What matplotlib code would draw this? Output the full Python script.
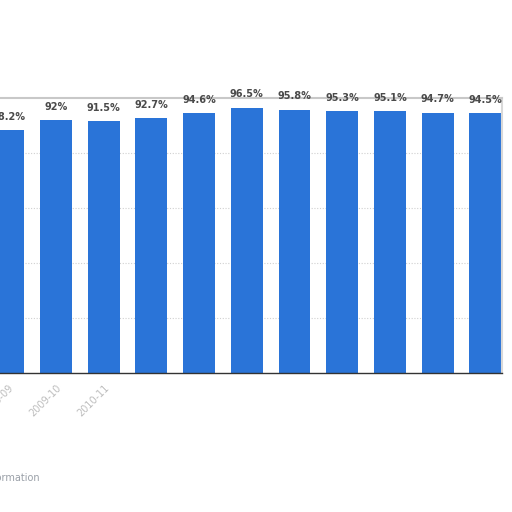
import matplotlib
matplotlib.use("Agg")
import matplotlib.pyplot as plt

# data
seasons = ["2008-09", "2009-10", "2010-11", "2011-12", "2012-13", "2013-14",
           "2014-15", "2015-16", "2016-17", "2017-18", "2018-19"]
rates = [88.2, 92.0, 91.5, 92.7, 94.6, 96.5, 95.8, 95.3, 95.1, 94.7, 94.5]
shown_ticks = 3  # only the first few tick labels survive in the picture

bar_color = "#2a74d8"

fig = plt.figure(figsize=(5.12, 5.12), dpi=100)
ax = fig.add_axes([0.0, 1 - 373 / 512, 502 / 512, (373 - 98) / 512])

x = list(range(len(rates)))
ax.bar(x, rates, width=0.67, color=bar_color, zorder=2)

for xi, v in zip(x, rates):
    txt = f"{v:g}%"
    ax.text(xi, v + 3.0, txt, ha="center", va="bottom", fontsize=7,
            fontweight="semibold", color="#4a4a4a", zorder=3)

ax.set_xlim(-0.174, 10.35)
ax.set_ylim(0, 100)
ax.set_yticks([20, 40, 60, 80])
ax.yaxis.grid(True, color="#d0d0d0", linestyle=(0, (1, 1.5)), linewidth=0.8, zorder=0)
ax.tick_params(left=False, labelleft=False, bottom=False)

ax.set_xticks(x[:shown_ticks])
ax.set_xticklabels(seasons[:shown_ticks], rotation=45, ha="right",
                   rotation_mode="anchor", fontsize=7, color="#bdbdbd")

ax.spines["left"].set_visible(False)
ax.spines["top"].set_color("#c8c8c8")
ax.spines["top"].set_linewidth(1.5)
ax.spines["right"].set_color("#d8d8d8")
ax.spines["right"].set_linewidth(1.5)
ax.spines["bottom"].set_color("#333333")
ax.spines["bottom"].set_linewidth(1.0)

fig.text(40 / 512, 1 - 478 / 512, "Additional Information", ha="right",
         va="center", fontsize=7, color="#9aa0a8")

fig.savefig("out.png", dpi=100)
